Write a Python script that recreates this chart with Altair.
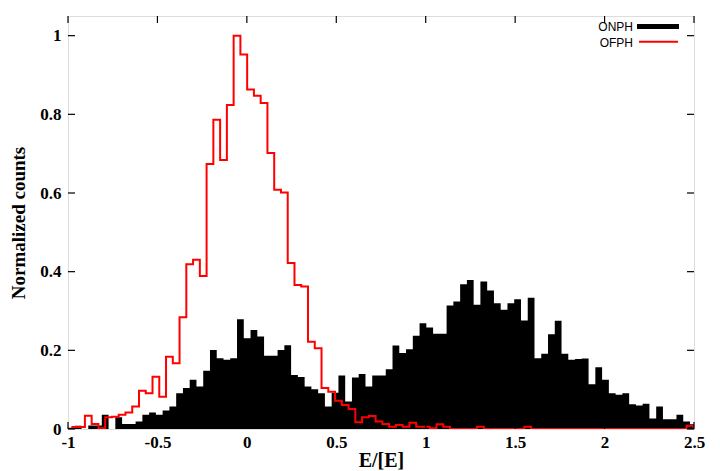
import altair as alt
import pandas as pd
import numpy as np

# ---------------- data ----------------
bin_width = 0.0378
bin_first = -1.0

series_names = ["ONPH", "OFPH"]

# ONPH (black filled histogram), one value per bin starting at -1
onph = [0.003, 0.008, 0.0, 0.009, 0.009, 0.036, 0.0, 0.030, 0.013, 0.013,
        0.019, 0.036, 0.042, 0.036, 0.047, 0.057, 0.091, 0.104, 0.125, 0.108,
        0.148, 0.201, 0.180, 0.176, 0.180, 0.279, 0.231, 0.252, 0.235, 0.186,
        0.186, 0.201, 0.213, 0.137, 0.132, 0.108, 0.101, 0.091, 0.057, 0.092,
        0.136, 0.070, 0.131, 0.140, 0.108, 0.136, 0.136, 0.152, 0.212, 0.193,
        0.203, 0.237, 0.269, 0.258, 0.242, 0.242, 0.314, 0.324, 0.368, 0.379,
        0.316, 0.375, 0.352, 0.320, 0.303, 0.320, 0.330, 0.276, 0.334, 0.180,
        0.191, 0.241, 0.275, 0.191, 0.176, 0.178, 0.179, 0.114, 0.157, 0.125,
        0.091, 0.087, 0.091, 0.063, 0.060, 0.064, 0.027, 0.057, 0.025, 0.025,
        0.036, 0.019, 0.012]

# OFPH (red steps), same bins
ofph = [0.005, 0.005, 0.034, 0.013, 0.002, 0.030, 0.031, 0.036, 0.042, 0.057,
        0.097, 0.091, 0.133, 0.082, 0.184, 0.167, 0.284, 0.419, 0.430, 0.389,
        0.674, 0.786, 0.684, 0.824, 1.000, 0.952, 0.863, 0.847, 0.829, 0.702,
        0.608, 0.601, 0.422, 0.366, 0.362, 0.222, 0.205, 0.104, 0.095, 0.072,
        0.061, 0.051, 0.017, 0.030, 0.033, 0.019, 0.013, 0.006, 0.010, 0.006,
        0.016, 0.006, 0.006, 0.002, 0.012, 0.006, 0.0, 0.0, 0.0, 0.0,
        0.006, 0.0, 0.0, 0.0, 0.0, 0.0, 0.0, 0.006, 0.0, 0.0,
        0.0, 0.0, 0.0, 0.0, 0.0, 0.0, 0.0, 0.0, 0.0, 0.0,
        0.0, 0.0, 0.0, 0.0, 0.0, 0.0, 0.0, 0.0, 0.0, 0.0,
        0.0, 0.008, 0.0]

x_ticks = [-1, -0.5, 0, 0.5, 1, 1.5, 2, 2.5]
y_ticks = [0, 0.2, 0.4, 0.6, 0.8, 1]

x_title = "E/[E]"
y_title = "Normalized counts"

# ---------------- tables ----------------
n = len(onph)
edges = bin_first + bin_width * np.arange(n + 1)
# step-area outline: each bin's value held from its left edge; closing edge repeats last value
df_bars = pd.DataFrame({"x": edges, "v": onph + [onph[-1]]})
df_step = pd.DataFrame({"c": edges[:-1] + bin_width / 2, "v": ofph})
df_xt = pd.DataFrame({"t": x_ticks})
df_yt = pd.DataFrame({"t": y_ticks})

W, H = 626, 413
serif = "Liberation Serif"
sans = "Liberation Sans"

xscale = alt.Scale(domain=[-1, 2.5], nice=False, zero=False)
yscale = alt.Scale(domain=[0, 1.05], nice=False, zero=False)

x_axis = alt.Axis(values=x_ticks, labelExpr="'' + datum.value", ticks=False,
                  domain=False, grid=False, labelFlush=False, labelFont=serif,
                  labelFontWeight="bold", labelFontSize=17, labelColor="black",
                  labelPadding=5, title=x_title, titleFont=serif,
                  titleFontWeight="bold", titleFontSize=20, titleColor="black",
                  titlePadding=0)
y_axis = alt.Axis(values=y_ticks, labelExpr="'' + datum.value", ticks=False,
                  domain=False, grid=False, labelFlush=False, labelFont=serif,
                  labelFontWeight="bold", labelFontSize=17, labelColor="black",
                  labelPadding=7, title=y_title, titleFont=serif,
                  titleFontWeight="bold", titleFontSize=19, titleColor="black",
                  titlePadding=11)

bars = alt.Chart(df_bars).mark_area(color="black", interpolate="step-after",
                                    clip=True, opacity=1).encode(
    x=alt.X("x:Q", scale=xscale, axis=x_axis),
    y=alt.Y("v:Q", scale=yscale, axis=y_axis),
    y2=alt.datum(0),
)

steps = alt.Chart(df_step).mark_line(color="#ff0000", strokeWidth=2,
                                     interpolate="step-after", clip=True).encode(
    x=alt.X("c:Q", scale=xscale),
    y=alt.Y("v:Q", scale=yscale),
)

tick_len = 7
bottom_ticks = alt.Chart(df_xt).mark_rule(color="black", strokeWidth=1.2).encode(
    x=alt.X("t:Q", scale=xscale), y=alt.value(H), y2=alt.value(H - tick_len))
top_ticks = alt.Chart(df_xt).mark_rule(color="black", strokeWidth=1.2).encode(
    x=alt.X("t:Q", scale=xscale), y=alt.value(0), y2=alt.value(tick_len))
left_ticks = alt.Chart(df_yt).mark_rule(color="black", strokeWidth=1.2).encode(
    y=alt.Y("t:Q", scale=yscale), x=alt.value(0), x2=alt.value(tick_len))
right_ticks = alt.Chart(df_yt).mark_rule(color="black", strokeWidth=1.2).encode(
    y=alt.Y("t:Q", scale=yscale), x=alt.value(W), x2=alt.value(W - tick_len))

# legend (gnuplot style: label, then sample)
leg_df = pd.DataFrame({"name": series_names})
leg_text1 = alt.Chart(leg_df).transform_filter(alt.datum.name == series_names[0]).mark_text(
    align="right", baseline="middle", font=sans, fontSize=12, color="black").encode(
    text="name:N", x=alt.value(565), y=alt.value(10.5))
leg_text2 = alt.Chart(leg_df).transform_filter(alt.datum.name == series_names[1]).mark_text(
    align="right", baseline="middle", font=sans, fontSize=12, color="black").encode(
    text="name:N", x=alt.value(565), y=alt.value(26.5))
leg_box = alt.Chart(leg_df).transform_filter(alt.datum.name == series_names[0]).mark_rect(
    color="black").encode(x=alt.value(569), x2=alt.value(611), y=alt.value(8), y2=alt.value(13))
leg_line = alt.Chart(leg_df).transform_filter(alt.datum.name == series_names[1]).mark_rule(
    color="#ff0000", strokeWidth=2).encode(x=alt.value(571), x2=alt.value(610), y=alt.value(25.7))

chart = alt.layer(
    bars, steps, bottom_ticks, top_ticks, left_ticks, right_ticks,
    leg_text1, leg_text2, leg_box, leg_line
).properties(
    width=W, height=H,
    padding={"left": 60, "top": 8, "right": 18, "bottom": 42},
    autosize=alt.AutoSizeParams(type="none"),
).configure_view(
    stroke="black", strokeWidth=2
).configure(background="white")

chart.save("out.html", embed_options={"renderer": "svg", "actions": False})
